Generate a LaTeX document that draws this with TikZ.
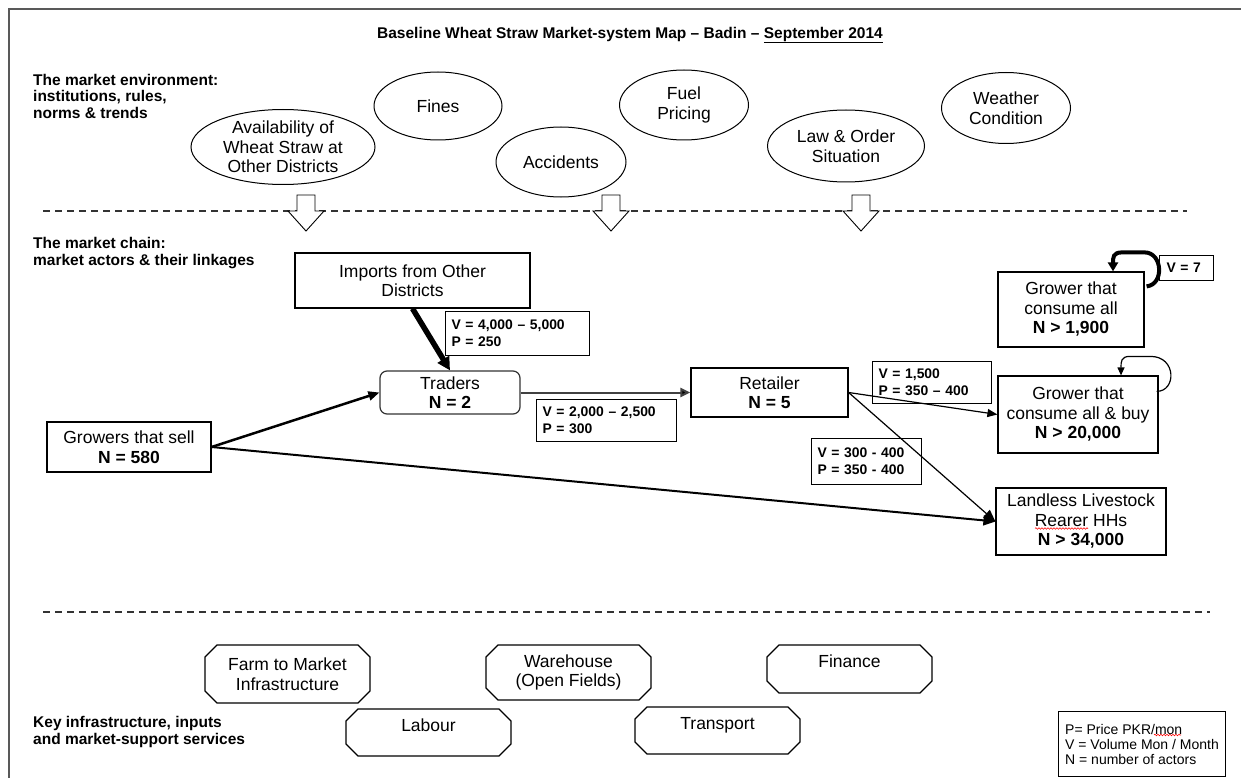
\documentclass[tikz,border=0pt]{standalone}
\usepackage{fontspec}
\setmainfont{Liberation Sans}
\usetikzlibrary{shapes.geometric,shapes.misc,arrows.meta,calc,decorations.pathmorphing}

\newcommand\bodysize{\fontsize{17.5}{19.5}\selectfont}
\newcommand\vpsize{\fontsize{13.9}{17}\selectfont\bfseries}
\newcommand\headsize{\fontsize{15.5}{16.5}\selectfont\bfseries}
\newcommand\keysize{\fontsize{14}{15}\selectfont}

\begin{document}
\begin{tikzpicture}[x=1pt,y=-1pt,
  envell/.style={ellipse, draw, line width=1pt, inner sep=0pt, align=center, font=\bodysize},
  actor/.style={rectangle, draw, line width=1.2pt, inner sep=0pt, align=center, font=\bodysize},
  vpbox/.style={rectangle, draw, line width=1pt, inner sep=0pt, inner xsep=6pt, align=left,
                anchor=north west, font=\vpsize},
  service/.style={chamfered rectangle, chamfered rectangle xsep=6pt, chamfered rectangle ysep=6pt,
                  draw, line width=1.1pt, inner sep=0pt, align=center, font=\bodysize},
  oneline/.style={text height=13pt, text depth=16pt},
  section/.style={align=left, inner sep=0pt, anchor=north west, font=\headsize},
  divider/.style={line width=1.5pt, black!80, dash pattern=on 7pt off 5pt},
  flow/.style={line width=1.2pt, -{Triangle[length=10pt,width=8pt]}},
  spell/.style={red, line width=0.6pt, decorate, decoration={snake, segment length=3pt, amplitude=0.8pt}},
  infl/.pic={\draw[line width=0.9pt, fill=white]
      (-9,-16) -- (9,-16) -- (9,0) -- (18,0) -- (0,20) -- (-18,0) -- (-9,0) -- cycle;}
]
\useasboundingbox (0,0) rectangle (1241,778);
\fill[white] (0,0) rectangle (1241,778);

% page frame
\draw[line width=2.5pt, black!65] (9,778) -- (9,9) -- (1241,9);

% title
\node[font=\headsize] (title) at (630,35)
  {Baseline Wheat Straw Market-system Map – Badin – \underline{September 2014}};

% section headings
\node[section] (envhead) at (33,74) {The market environment:\\institutions, rules,\\norms \& trends};
\node[section] (chainhead) at (33,237.5) {The market chain:\\market actors \& their linkages};
\node[section] (servhead) at (33,716.5) {Key infrastructure, inputs\\and market-support services};

% market environment
\node[envell, minimum width=184pt, minimum height=75pt] (avail) at (283,147) {Availability of\\Wheat Straw at\\Other Districts};
\node[envell, minimum width=128pt, minimum height=68pt] (fines) at (438,106) {Fines};
\node[envell, minimum width=130pt, minimum height=70pt] (accid) at (561,162) {Accidents};
\node[envell, minimum width=129pt, minimum height=70pt] (fuel) at (684,105) {Fuel\\Pricing};
\node[envell, minimum width=157pt, minimum height=72pt] (law) at (846,146) {Law \& Order\\Situation};
\node[envell, minimum width=129pt, minimum height=71pt] (weather) at (1006,108) {Weather\\Condition};

% dividers
\draw[divider] (43,211) -- (1187,211);
\draw[divider] (43,612) -- (1210,612);

% influence arrows
\pic at (306,211) {infl};
\pic at (611,211) {infl};
\pic at (861,211) {infl};

% market actors
\node[actor, minimum width=235pt, minimum height=55pt] (imports) at (412.5,280.5) {Imports from Other\\Districts};
\node[actor, rounded corners=7pt, draw=black!80, minimum width=140pt, minimum height=43pt] (traders) at (450,392.5) {Traders\\\textbf{N = 2}};
\node[actor, minimum width=164pt, minimum height=50pt] (growers) at (129,447) {Growers that sell\\\textbf{N = 580}};
\node[actor, minimum width=157pt, minimum height=49pt] (retailer) at (769.5,392.5) {Retailer\\\textbf{N = 5}};
\node[actor, minimum width=146pt, minimum height=75pt] (consall) at (1071,309.5) {Grower that\\consume all\\\textbf{N > 1,900}};
\node[actor, minimum width=160pt, minimum height=77pt] (consbuy) at (1078,414.5) {Grower that\\consume all \& buy\\\textbf{N > 20,000}};
\node[actor, minimum width=170pt, minimum height=67pt] (landless) at (1081,521.5) {Landless Livestock\\Rearer HHs\\\textbf{N > 34,000}};

% volume / price boxes
\node[vpbox, text width=132pt, minimum height=44pt] (vp1) at (445,311) {V = 4,000 – 5,000\\P = 250};
\node[vpbox, text width=128pt, minimum height=42pt] (vp2) at (536,399) {V = 2,000 – 2,500\\P = 300};
\node[vpbox, text width=107pt, minimum height=42pt] (vp3) at (872,361) {V = 1,500\\P = 350 – 400};
\node[vpbox, text width=98pt, minimum height=46pt] (vp4) at (811,438) {V = 300 - 400\\P = 350 - 400};
\node[vpbox, inner xsep=7pt, text width=40pt, minimum height=25pt] (v7) at (1159,255) {V = 7};

% linkages
\draw[line width=5.5pt, -{Triangle[length=13pt,width=13pt]}] (imports.south) -- (traders.north);
\draw[line width=2.5pt, -{Triangle[length=11pt,width=9pt]}] (growers.east) -- (traders.west);
\draw[line width=2pt, black!75, -{Triangle[length=10pt,width=9pt,fill=black]}] (traders.east) -- (retailer.west);
\draw[flow] (retailer.east) -- (consbuy.west);
\draw[flow, -{Triangle[length=12pt,width=10pt]}] (retailer.east) -- (landless.west);
\draw[line width=2pt, -{Triangle[length=12pt,width=10pt]}] (growers.east) -- (landless.west);

% own-consumption loops
\coordinate (l1s) at ($(consall.north east)+(2,15)$);
\coordinate (l1e) at ($(consall.north)+(42,0)$);
\draw[line width=4pt, -{Triangle[length=9pt,width=10pt]}]
  (l1s) .. controls ($(l1s)+(18,-2)$) and ($(l1s)+(16,-34)$) .. ($(l1s)+(-2,-34)$)
  -- ($(l1e)+(9,-19)$) .. controls ($(l1e)+(0,-19)$) and ($(l1e)+(0,-14)$) .. (l1e);
\coordinate (l2s) at ($(consbuy.north east)+(-2,16)$);
\coordinate (l2e) at ($(consbuy.north)+(43,0)$);
\draw[line width=1.2pt, -{Triangle[length=8pt,width=7pt]}]
  (l2s) .. controls ($(l2s)+(20,0)$) and ($(l2s)+(20,-35)$) .. ($(l2s)+(-6,-35)$)
  -- ($(l2e)+(9,-19)$) .. controls ($(l2e)+(0,-19)$) and ($(l2e)+(0,-14)$) .. (l2e);

% support services
\node[service, minimum width=165pt, minimum height=58pt] (farm) at (287.5,674) {Farm to Market\\Infrastructure};
\node[service, minimum width=165pt, minimum height=55pt] (wareh) at (568.5,672.5) {Warehouse\\(Open Fields)};
\node[service, oneline, minimum width=165pt, minimum height=48pt] (finance) at (849.5,669) {Finance};
\node[service, oneline, minimum width=165pt, minimum height=47pt] (labour) at (428.5,732.5) {Labour};
\node[service, oneline, minimum width=165pt, minimum height=47pt] (transport) at (717.5,730.5) {Transport};

% key
\node[rectangle, draw, line width=1pt, anchor=north west, inner sep=0pt,
      minimum width=167pt, minimum height=65pt, align=left, font=\keysize] (key) at (1058,711)
  {P= Price PKR/mon\\V = Volume Mon / Month\\N = number of actors};

% spelling marks
\draw[spell] ($(landless.center)+(-46,7)$) -- ($(landless.center)+(7,7)$);
\draw[spell] ($(key.north west)+(96,24)$) -- ($(key.north west)+(123,24)$);
\end{tikzpicture}
\end{document}
